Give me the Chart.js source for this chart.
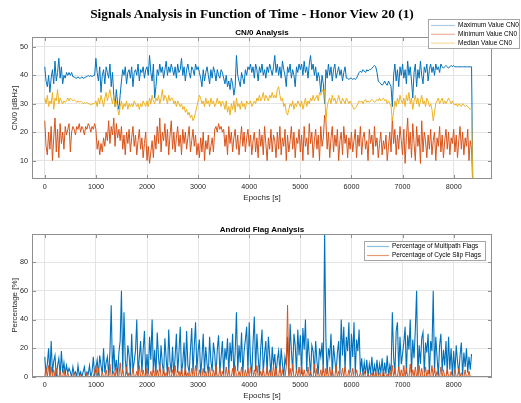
<!DOCTYPE html>
<html>
<head>
<meta charset="utf-8">
<script src="https://cdn.jsdelivr.net/npm/chart.js@4.4.1/dist/chart.umd.min.js"></script>
<style>
  html, body { margin: 0; padding: 0; background: #fff; }
  #fig { position: relative; width: 521px; height: 403px; overflow: hidden; background: #fff; }
  #fig canvas { position: absolute; left: 0; top: 0; }
  #suptitle {
    position: absolute; left: 0; top: 6px; width: 504px; text-align: center;
    font: bold 13.4px "Liberation Serif", "DejaVu Serif", serif; line-height: 15px; color: #000;
  }
</style>
</head>
<body>
<div id="fig">
  <canvas id="cn0Chart" width="521" height="403"></canvas>
  <canvas id="flagChart" width="521" height="403"></canvas>
  <div id="suptitle">Signals Analysis in Function of Time - Honor View 20 (1)</div>
</div>
<script>
// Sampling interval of the series below, in epochs (seconds)
const epochStep = 25;

// CN0 statistics per epoch [dBHz]; the final 0 is where logging stops
const cn0Max = [
  43, 38, 36, 40, 34, 39, 42, 37, 45, 38, 41, 46, 39, 43, 37, 40, 39, 41, 40, 41,
  40, 41, 39.5, 39.5, 39, 39, 39.5, 39, 39, 39.5, 39, 39, 39.5, 39.5, 40, 39.5, 40, 39.5, 40, 40,
  46, 41, 38, 43, 34, 40, 42, 37, 43, 41, 39, 44, 36, 41, 33, 29, 35, 30, 28, 33,
  38, 42, 40, 43, 37, 41, 42, 39, 43, 36, 41, 42, 40, 44, 38, 42, 41, 43, 39, 42,
  43, 40, 47, 41, 38, 44, 32, 36, 42, 40, 44, 41, 43, 39, 42, 45, 40, 43, 41, 44,
  42, 40, 43, 39, 44, 41, 42, 46, 40, 43, 38, 42, 44, 41, 39, 43, 42, 40, 44, 42,
  43, 41, 39, 36, 42, 38, 41, 43, 40, 37, 42, 39, 43, 41, 38, 42, 40, 39, 42, 41,
  39, 37, 40, 36, 38, 35, 39, 37, 33, 36, 47, 40, 38, 36, 41, 39, 37, 42, 40, 43,
  42, 44, 41, 43, 39, 44, 42, 38, 43, 41, 44, 40, 42, 39, 43, 41, 44, 42, 40, 43,
  47, 41, 44, 40, 43, 39, 45, 42, 40, 36, 43, 41, 44, 39, 42, 40, 36, 43, 41, 44,
  42, 44, 40, 45, 41, 43, 39, 44, 47, 42, 44, 40, 43, 38, 41, 39, 34, 40, 37, 30,
  42, 39, 44, 40, 43, 38, 42, 44, 39, 41, 43, 40, 42, 38, 41, 43, 39, 39, 38.5, 39,
  39, 38.5, 39, 38.5, 39, 40, 41, 41.5, 41, 42, 41.5, 41, 42, 41.5, 42, 42, 42.5, 43, 43.5, 43,
  41, 38, 37.5, 37, 36.5, 37, 38, 37, 36.5, 38, 37, 36, 29, 40, 44, 38, 42, 36, 43, 40,
  44, 39, 42, 37, 45, 40, 43, 38, 32, 41, 44, 36, 42, 39, 45, 40, 37, 43, 41, 44,
  38, 42, 44, 41, 43, 40, 44, 42, 43, 41, 44, 43, 42.5, 43, 43.5, 43, 42.5, 43, 43.5, 43,
  43.5, 43, 43, 43, 43, 43, 43, 43, 43, 43, 43, 43, 43, 43, 43, 0
];
const cn0Min = [
  24, 15, 12, 20, 14, 22, 10, 18, 25, 13, 21, 11, 23, 16, 20, 14, 22, 19, 21, 23,
  13, 20, 22, 21, 19, 22, 21, 23, 20, 22, 21, 19, 22, 21, 23, 22, 20, 22, 21, 23,
  21, 14, 17, 12, 16, 13, 18, 15, 20, 17, 24, 16, 22, 19, 25, 15, 23, 18, 21, 17,
  22, 14, 19, 12, 20, 16, 21, 13, 18, 22, 15, 19, 12, 17, 21, 14, 18, 11, 16, 20,
  10, 15, 9, 13, 17, 11, 19, 14, 22, 16, 25, 13, 20, 17, 23, 15, 21, 12, 19, 24,
  14, 20, 13, 18, 22, 15, 19, 12, 21, 16, 20, 14, 18, 22, 13, 17, 21, 15, 19, 12,
  16, 11, 18, 13, 20, 10, 17, 14, 19, 12, 15, 18, 13, 21, 22, 20, 23, 21, 22, 20,
  21, 15, 19, 12, 22, 16, 20, 13, 18, 21, 14, 19, 12, 17, 22, 15, 20, 13, 18, 21,
  15, 19, 12, 17, 20, 13, 18, 11, 21, 15, 19, 12, 22, 16, 10, 18, 14, 21, 13, 19,
  17, 11, 20, 14, 22, 12, 18, 15, 21, 10, 19, 13, 17, 22, 14, 20, 11, 18, 16, 21,
  13, 19, 10, 22, 15, 18, 12, 23, 16, 20, 11, 17, 21, 14, 19, 10, 22, 15, 18, 26,
  24, 14, 20, 11, 18, 22, 13, 19, 15, 21, 10, 17, 20, 12, 22, 16, 19, 11, 18, 14,
  20, 13, 17, 21, 11, 19, 15, 22, 12, 18, 20, 14, 17, 10, 21, 16, 19, 12, 22, 15,
  18, 11, 16, 20, 12, 17, 14, 19, 10, 15, 20, 13, 25, 16, 21, 12, 19, 14, 22, 17,
  12, 21, 9, 18, 25, 14, 20, 11, 23, 16, 10, 22, 15, 19, 9, 24, 13, 20, 17, 11,
  19, 14, 21, 12, 17, 20, 10, 18, 15, 22, 13, 19, 11, 17, 21, 14, 20, 12, 18, 16,
  21, 13, 19, 11, 17, 22, 14, 20, 12, 18, 15, 21, 10, 17, 14, 0
];
const cn0Median = [
  32, 30, 33, 29, 31, 30, 34, 28, 32, 31, 35, 30, 32, 31, 30, 31, 30.5, 31, 32, 31,
  32, 31.5, 31, 31.5, 31, 30.5, 31, 30.5, 31, 30.5, 30, 30.5, 30, 30.5, 30, 30, 29.5, 30, 30, 30,
  31, 29, 32, 30, 33, 31, 29, 32, 34, 31, 33, 35, 32, 30, 33, 29, 31, 28, 26, 29,
  31, 28, 30, 29, 31, 28, 30, 29, 30, 29, 31, 30, 29, 30, 28, 30, 29, 31, 30, 29,
  31, 29, 32, 30, 33, 31, 30, 32, 31, 33, 30, 32, 35, 31, 33, 32, 30, 33, 31, 32,
  32, 30, 31, 29, 31, 30, 29, 30, 28, 29, 27, 28, 26, 27, 25, 26, 24, 25, 27, 29,
  31, 33, 32, 30, 31, 29, 32, 30, 31, 29, 32, 30, 31, 29, 30, 32, 30, 31, 29, 31,
  30, 28, 31, 27, 29, 26, 30, 28, 31, 27, 32, 29, 30, 28, 31, 29, 30, 28, 31, 30,
  30, 31, 29, 30, 31, 30, 32, 31, 33, 31, 32, 34, 31, 33, 32, 31, 33, 32, 34, 32,
  33, 32, 35, 36, 33, 31, 32, 29, 30, 27, 26, 28, 30, 29, 31, 28, 30, 29, 31, 30,
  29, 31, 28, 30, 32, 29, 31, 30, 32, 31, 33, 31, 32, 33, 31, 34, 33, 35, 34, 35,
  24, 29, 31, 32, 30, 33, 31, 32, 30, 31, 33, 31, 30, 32, 31, 30, 32, 31, 30, 31,
  30, 29, 28, 28.5, 29, 30, 31, 30.5, 31, 30, 31, 31.5, 30.5, 31, 30.5, 31, 31.5, 31, 30.5, 31,
  31.5, 31, 32, 31, 31.5, 32, 31, 31.5, 30, 31, 30, 29, 24, 27, 31, 29, 32, 30, 33, 31,
  30, 32, 29, 33, 31, 34, 30, 32, 28, 31, 33, 30, 32, 29, 31, 33, 30, 31, 29, 32,
  31, 29, 30, 28, 24, 27, 30, 31, 32, 30, 31, 32, 30, 31, 30, 31, 32, 31, 30, 31,
  30, 29.5, 30, 29, 30, 29.5, 29, 30, 29.5, 29, 29.5, 29, 28.5, 28, 28.5, 0
];

// Share of tracked signals carrying each Android flag [%]
const multipathPct = [
  14, 2, 9, 20, 1, 25, 3, 11, 15, 0, 8, 13, 1, 18, 3, 10, 2, 8, 3, 6,
  3.5, 0, 7, 2, 3.5, 0, 8, 1, 3.5, 0, 3.5, 7, 0, 3.5, 2, 8, 0, 3.5, 14, 1,
  6, 12, 1, 15, 8, 2, 20, 3, 10, 14, 1, 18, 50, 2, 22, 4, 12, 0, 17, 25,
  60, 3, 45, 12, 2, 22, 15, 1, 30, 4, 11, 18, 40, 2, 14, 25, 3, 19, 32, 1,
  16, 2, 28, 12, 40, 3, 19, 1, 31, 14, 4, 22, 9, 2, 27, 13, 1, 33, 11, 3,
  21, 0, 14, 30, 3, 17, 35, 2, 10, 24, 1, 32, 8, 3, 19, 34, 2, 22, 38, 4,
  18, 26, 1, 13, 30, 3, 21, 9, 2, 28, 11, 4, 24, 16, 1, 19, 29, 3, 14, 25,
  2, 20, 12, 27, 3, 24, 11, 30, 1, 17, 45, 4, 22, 10, 31, 2, 18, 26, 35, 3,
  38, 11, 2, 24, 42, 4, 30, 14, 1, 20, 33, 3, 16, 25, 2, 28, 15, 1, 21, 8,
  16, 1, 12, 18, 3, 20, 9, 0, 14, 8, 28, 2, 37, 18, 4, 30, 22, 3, 33, 15,
  29, 2, 34, 19, 40, 4, 27, 15, 1, 22, 18, 3, 25, 11, 2, 20, 14, 24, 3, 100,
  26, 2, 20, 14, 30, 1, 22, 12, 3, 17, 25, 2, 40, 15, 35, 4, 28, 18, 38, 3,
  30, 14, 38, 2, 26, 18, 33, 3, 13, 1, 10, 2, 12, 0, 9, 3, 14, 1, 8, 2,
  12, 1, 9, 3, 13, 0, 10, 2, 15, 1, 8, 3, 45, 14, 2, 32, 38, 4, 28, 9,
  16, 24, 35, 2, 29, 19, 40, 3, 26, 13, 33, 60, 1, 22, 9, 27, 31, 3, 24, 17,
  30, 2, 25, 18, 60, 3, 28, 14, 1, 22, 30, 4, 19, 8, 25, 2, 28, 5, 20, 1,
  18, 3, 22, 11, 2, 15, 24, 1, 17, 7, 20, 3, 14, 5, 16
];
const cycleSlipPct = [
  0, 6, 0, 8, 0, 7, 0, 5, 0, 6, 0, 0, 4, 0, 0, 5, 0, 0, 3, 0,
  0, 0, 0, 3, 0, 0, 0, 0, 2, 0, 0, 0, 0, 3, 0, 0, 0, 0, 0, 4,
  8, 0, 6, 0, 0, 3, 0, 0, 5, 0, 0, 9, 0, 0, 4, 0, 6, 0, 0, 10,
  0, 5, 0, 0, 7, 0, 3, 0, 0, 6, 0, 0, 4, 0, 8, 0, 0, 5, 0, 0,
  6, 0, 0, 4, 0, 7, 0, 0, 5, 0, 9, 0, 0, 6, 0, 3, 0, 7, 0, 0,
  5, 0, 8, 0, 0, 4, 0, 6, 0, 0, 7, 0, 3, 0, 0, 6, 0, 0, 8, 0,
  0, 5, 0, 0, 6, 0, 4, 0, 0, 7, 0, 0, 5, 0, 8, 0, 0, 6, 0, 4,
  0, 0, 7, 0, 5, 0, 0, 6, 0, 8, 0, 0, 4, 0, 7, 0, 0, 5, 0, 6,
  0, 7, 0, 0, 5, 0, 8, 0, 0, 4, 0, 6, 0, 0, 7, 0, 5, 0, 0, 8,
  0, 6, 0, 0, 8, 0, 5, 0, 0, 7, 50, 0, 6, 0, 9, 0, 0, 5, 0, 7,
  0, 8, 0, 5, 0, 0, 7, 0, 4, 0, 0, 9, 0, 6, 0, 0, 5, 0, 8, 0,
  6, 0, 0, 7, 0, 5, 0, 0, 8, 0, 4, 0, 0, 6, 0, 7, 0, 0, 5, 0,
  0, 6, 0, 0, 5, 0, 0, 3, 0, 0, 4, 0, 0, 2, 0, 0, 3, 0, 0, 4,
  0, 0, 3, 0, 0, 4, 0, 0, 2, 0, 5, 0, 8, 0, 6, 0, 0, 7, 0, 5,
  0, 8, 0, 6, 0, 0, 9, 0, 5, 0, 7, 0, 0, 8, 0, 6, 0, 0, 7, 0,
  5, 0, 0, 8, 0, 6, 0, 4, 0, 0, 7, 0, 5, 0, 0, 6, 0, 0, 4, 0,
  0, 5, 0, 0, 6, 0, 3, 0, 0, 5, 0, 0, 4, 0, 0, 0, 0, 0, 0, 0, 0, 0, 0, 0, 0, 0, 0, 0, 0, 0, 0
];

// Axis ticks
const epochTicks = [0, 1000, 2000, 3000, 4000, 5000, 6000, 7000, 8000];
const cn0Ticks = [10, 20, 30, 40, 50];
const pctTicks = [0, 20, 40, 60, 80];

const BLUE = '#0072BD', ORANGE = '#D95319', YELLOW = '#EDB120';
const AXIS_GRAY = '#8f8f8f', TEXT_GRAY = '#262626';
const SANS = '"Liberation Sans", Arial, sans-serif';

Chart.defaults.font.family = SANS;

const toPoints = values => values.map((v, i) => ({ x: i * epochStep, y: v }));
const setTicks = list => scale => { scale.ticks = list.map(v => ({ value: v })); };

// Axes box, inward tick marks, subplot title and legend box
const axesDecor = {
  id: 'axesDecor',
  afterDraw(chart, args, opts) {
    const { ctx, chartArea: a, scales: { x, y } } = chart;
    ctx.save();
    ctx.strokeStyle = AXIS_GRAY;
    ctx.lineWidth = 1;
    ctx.strokeRect(a.left + 0.5, a.top + 0.5, a.right - a.left - 1, a.bottom - a.top - 1);
    const tl = 4;
    ctx.beginPath();
    x.ticks.forEach(t => {
      const px = Math.round(x.getPixelForValue(t.value)) + 0.5;
      ctx.moveTo(px, a.bottom); ctx.lineTo(px, a.bottom - tl);
      ctx.moveTo(px, a.top); ctx.lineTo(px, a.top + tl);
    });
    y.ticks.forEach(t => {
      const py = Math.round(y.getPixelForValue(t.value)) + 0.5;
      ctx.moveTo(a.left, py); ctx.lineTo(a.left + tl, py);
      ctx.moveTo(a.right, py); ctx.lineTo(a.right - tl, py);
    });
    ctx.stroke();

    ctx.fillStyle = '#000';
    ctx.font = 'bold 8px ' + SANS;
    ctx.textAlign = 'center';
    ctx.textBaseline = 'alphabetic';
    ctx.fillText(opts.title, (a.left + a.right) / 2, a.top - 2);

    const lg = opts.legend;
    ctx.fillStyle = '#fff';
    ctx.fillRect(lg.x, lg.y, lg.w, lg.h);
    ctx.strokeStyle = '#a6a6a6';
    ctx.strokeRect(lg.x + 0.5, lg.y + 0.5, lg.w - 1, lg.h - 1);
    ctx.font = '6.5px ' + SANS;
    ctx.textAlign = 'left';
    ctx.textBaseline = 'middle';
    chart.data.datasets.forEach((ds, i) => {
      const ry = lg.y + lg.rowTop + i * lg.rowGap;
      ctx.strokeStyle = ds.legendColor;
      ctx.lineWidth = 1.2;
      ctx.beginPath();
      ctx.moveTo(lg.x + 3, ry); ctx.lineTo(lg.x + lg.lineLen, ry);
      ctx.stroke();
      ctx.fillStyle = '#000';
      ctx.fillText(ds.label, lg.x + lg.lineLen + 3, ry);
    });
    ctx.restore();
  }
};

function xScale(height, titlePadBottom) {
  return {
    type: 'linear', min: -250, max: 8750,
    afterBuildTicks: setTicks(epochTicks),
    afterFit: s => { s.height = height; },
    grid: { color: '#e4e4e4', drawTicks: false },
    border: { display: false },
    ticks: { font: { size: 7.2 }, color: TEXT_GRAY, padding: 4, maxRotation: 0, autoSkip: false, callback: v => String(v) },
    title: { display: true, text: 'Epochs [s]', font: { size: 8 }, color: TEXT_GRAY, padding: { top: 0, bottom: titlePadBottom } }
  };
}

function yScale(min, max, ticks, label) {
  return {
    type: 'linear', min, max,
    afterBuildTicks: setTicks(ticks),
    afterFit: s => { s.width = 32; },
    grid: { color: '#e4e4e4', drawTicks: false },
    border: { display: false },
    ticks: { font: { size: 7.2 }, color: TEXT_GRAY, padding: 4, autoSkip: false, callback: v => String(v) },
    title: { display: true, text: label, font: { size: 8 }, color: TEXT_GRAY, padding: { top: 10, bottom: 0 } }
  };
}

const lineStyle = { pointRadius: 0, borderWidth: 1, fill: false, tension: 0 };

new Chart(document.getElementById('cn0Chart'), {
  type: 'line',
  data: {
    datasets: [
      { label: 'Maximum Value CN0', data: toPoints(cn0Max), borderColor: BLUE, legendColor: '#a9cde8', ...lineStyle },
      { label: 'Minimum Value CN0', data: toPoints(cn0Min), borderColor: ORANGE, legendColor: '#eab39c', ...lineStyle },
      { label: 'Median Value CN0', data: toPoints(cn0Median), borderColor: YELLOW, legendColor: '#f6dc9f', ...lineStyle, order: -1 }
    ]
  },
  options: {
    responsive: false, animation: false, devicePixelRatio: 1,
    layout: { padding: { left: 0, right: 29, top: 37, bottom: 198 } },
    plugins: {
      legend: { display: false }, tooltip: { enabled: false },
      axesDecor: {
        title: 'CN/0 Analysis',
        legend: { x: 428, y: 19, w: 92, h: 30, rowTop: 6.5, rowGap: 8.8, lineLen: 27 }
      }
    },
    scales: { x: xScale(26, 2), y: yScale(3.5, 53.5, cn0Ticks, 'CN/0 [dBHz]') }
  },
  plugins: [axesDecor]
});

new Chart(document.getElementById('flagChart'), {
  type: 'line',
  data: {
    datasets: [
      { label: 'Percentage of Multipath Flags', data: toPoints(multipathPct), borderColor: BLUE, legendColor: '#8fbfe0', ...lineStyle, borderWidth: 1.1, order: 2 },
      { label: 'Percentage of Cycle Slip Flags', data: toPoints(cycleSlipPct), borderColor: ORANGE, legendColor: '#e59a78', ...lineStyle, order: 1 }
    ]
  },
  options: {
    responsive: false, animation: false, devicePixelRatio: 1,
    layout: { padding: { left: 0, right: 29, top: 234, bottom: 0 } },
    plugins: {
      legend: { display: false }, tooltip: { enabled: false },
      axesDecor: {
        title: 'Android Flag Analysis',
        legend: { x: 364, y: 241, w: 122, h: 20, rowTop: 5.5, rowGap: 9, lineLen: 25 }
      }
    },
    scales: { x: xScale(26, 2), y: yScale(0, 99.5, pctTicks, 'Percentage [%]') }
  },
  plugins: [axesDecor]
});
</script>
</body>
</html>
